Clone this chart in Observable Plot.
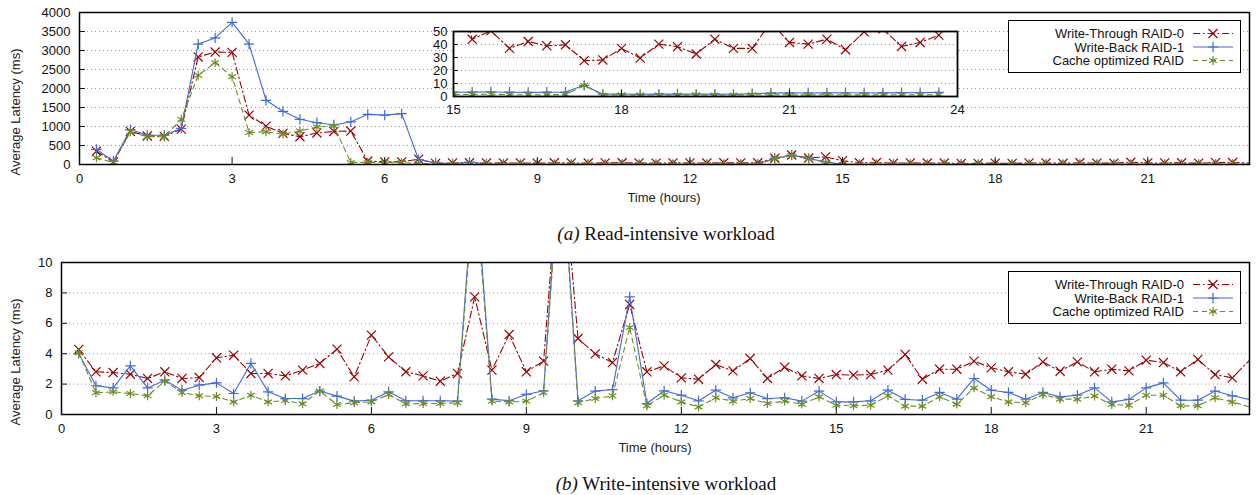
<!DOCTYPE html>
<html><head><meta charset="utf-8">
<script src="https://cdn.jsdelivr.net/npm/d3@7"></script>
<script src="https://cdn.jsdelivr.net/npm/@observablehq/plot@0.6"></script>
<style>
body{margin:0;background:#fff;}
#root{position:relative;width:1256px;height:495px;overflow:hidden;font-family:"Liberation Sans",Arial,sans-serif;background:#fff;}
#root svg{position:absolute;}
.ytitle{position:absolute;font-size:13px;color:#222;transform:translate(-50%,-50%) rotate(-90deg);white-space:nowrap;}
.xtitle{position:absolute;font-size:13px;color:#222;transform:translate(-50%,-50%);white-space:nowrap;}
.caption{position:absolute;font-family:"Liberation Serif","Times New Roman",serif;font-size:19px;color:#111;transform:translate(-50%,-50%);white-space:nowrap;}
</style></head>
<body><div id="root"></div>
<script>
// sample times (minutes after start)
const minutes = [20,40,60,80,100,120,140,160,180,200,220,240,260,280,300,320,340,360,380,400,420,440,460,480,500,520,540,560,580,600,620,640,660,680,700,720,740,760,780,800,820,840,860,880,900,920,940,960,980,1000,1020,1040,1060,1080,1100,1120,1140,1160,1180,1200,1220,1240,1260,1280,1300,1320,1340,1360,1380,1400,1420];

const seriesNames = ["Write-Through RAID-0", "Write-Back RAID-1", "Cache optimized RAID"];

// (a) Read-intensive workload, latency (ms)
const readWT = [350,70,870,750,740,930,2830,2960,2950,1300,1010,820,730,830,870,880,90,70,70,140,30,
  40,45,38,42,40,36,44,40,38,42,45,40,37,43,40,38,44,41,45,
  165,250,170,200,100,
  44,50.5,37,42.3,39,39.8,27.6,28.1,37,29.6,40.3,38.3,32.7,44.1,37,37,57,41.6,40.3,44.1,36,49.7,52,38.5,41.6,47.2];
const readWB = [400,90,920,770,770,950,3170,3330,3740,3170,1690,1400,1190,1100,1040,1120,1320,1300,1340,130,45,
  20,65,15,8,6,5,6,5,7,5,6,5,6,5,6,5,6,5,8,
  160,245,160,70,3.3,
  3.4,3.5,3.3,3.2,3.3,3.4,8.6,1.8,1.9,1.7,1.8,1.8,1.9,1.8,1.7,2.2,2.6,2.8,2.7,2.8,2.9,2.7,2.8,3.0,2.9,3.2];
const readCO = [175,55,860,730,730,1190,2350,2680,2310,840,860,800,880,990,1010,55,55,55,55,25,25,
  3,4,3,2,3,2,3,2,3,2,2,3,2,3,2,3,2,2,3,
  155,240,155,60,1.5,
  1.5,1.8,1.4,1.3,1.4,1.5,8.4,1.2,1.3,1.2,1.1,1.2,1.3,1.2,1.2,1.3,1.4,1.3,1.2,1.4,1.3,1.2,1.3,1.4,1.3,1.4];

// (b) Write-intensive workload, latency (ms)
const writeWT = [4.28,2.81,2.76,2.65,2.37,2.81,2.37,2.43,3.73,3.90,
  2.70,2.70,2.54,2.92,3.36,4.30,2.48,5.22,3.79,2.81,
  2.54,2.19,2.70,7.74,2.92,5.26,2.81,3.51,18,5.00,
  3.99,3.42,7.24,2.81,3.20,2.41,2.32,3.29,2.87,3.68,
  2.37,3.11,2.54,2.37,2.63,2.59,2.63,2.92,3.95,2.32,
  2.98,2.98,3.51,3.07,2.81,2.65,3.46,2.85,3.46,2.81,
  2.98,2.87,3.57,3.42,2.81,3.62,2.63,2.41,3.57];
const writeWB = [4.01,1.89,1.75,3.20,1.75,2.26,1.60,1.93,2.08,1.38,
  3.36,1.49,1.05,1.05,1.54,1.21,0.88,0.94,1.49,0.90,
  0.90,0.90,0.88,16.3,1.01,0.90,1.32,1.56,18,0.90,
  1.54,1.64,7.74,0.72,1.56,1.27,0.90,1.60,1.10,1.43,
  1.05,1.10,0.88,1.54,0.83,0.83,0.90,1.60,0.99,0.94,
  1.45,1.01,2.37,1.60,1.45,1.01,1.45,1.16,1.27,1.75,
  0.83,0.99,1.75,2.08,0.94,0.94,1.54,1.23,0.99];
const writeCO = [4.06,1.43,1.49,1.38,1.23,2.19,1.45,1.23,1.18,0.83,
  1.27,0.83,0.92,0.70,1.54,0.66,0.77,0.83,1.32,0.70,
  0.72,0.72,0.77,15.5,0.88,0.83,0.88,1.43,17.5,0.77,
  1.05,1.23,5.72,0.57,1.27,0.83,0.50,1.10,0.88,1.05,
  0.72,0.88,0.68,1.16,0.61,0.57,0.61,1.23,0.55,0.55,
  1.16,0.68,1.75,1.16,0.83,0.77,1.32,1.01,1.01,1.21,
  0.66,0.61,1.27,1.27,0.57,0.57,1.10,0.83,0.50];

const xTicks = [0,3,6,9,12,15,18,21];
const readYTicks = [0,500,1000,1500,2000,2500,3000,3500,4000];
const writeYTicks = [0,2,4,6,8,10];
const insetXTicks = [15,18,21,24];
const insetYTicks = [0,10,20,30,40,50];

const styles = [
  {color: "#9b0000", dash: "7,3,1.5,3", symbol: "times", r: 4.2},
  {color: "#4169e1", dash: null, symbol: "plus", r: 3.4},
  {color: "#6b8e23", dash: "5,4", symbol: "asterisk", r: 4.2}
];

function rowsOf(arrs) {
  return arrs.map((arr, s) => arr.map((v, i) => ({s, t: minutes[i] / 60, v})));
}

const FONT = {fontFamily: "'Liberation Sans', Arial, sans-serif", fontSize: "13px", color: "#111", background: "transparent", overflow: "visible"};
const plain = d => String(d);

function seriesMarks(series, dotFilter) {
  const marks = [];
  series.forEach((rows, s) => {
    const st = styles[s];
    marks.push(Plot.line(rows, {x: "t", y: "v", stroke: st.color, strokeWidth: 1.1, strokeDasharray: st.dash, clip: true}));
    marks.push(Plot.dot(rows.filter(dotFilter), {x: "t", y: "v", symbol: st.symbol, r: st.r, stroke: st.color, strokeWidth: 1.2, clip: true}));
  });
  return marks;
}

function panel(series, yDomain, yTicks, marginLeft) {
  return Plot.plot({
    width: 1256, height: 205,
    marginLeft, marginRight: 7, marginTop: 12, marginBottom: 41,
    style: FONT,
    x: {domain: [0, 23]},
    y: {domain: yDomain},
    marks: [
      Plot.gridY({ticks: yTicks, stroke: "#999", strokeOpacity: 1, strokeWidth: 1, strokeDasharray: "1,3"}),
      ...seriesMarks(series, d => d.t <= 22.9),
      Plot.frame({stroke: "#000", strokeWidth: 1.5}),
      Plot.axisX({ticks: xTicks, tickSize: 0, tickPadding: 9, tickFormat: plain, label: null}),
      Plot.axisX({ticks: xTicks, tickSize: -7, tickFormat: () => "", label: null}),
      Plot.axisY({ticks: yTicks, tickSize: 0, tickPadding: 9, tickFormat: plain, label: null}),
      Plot.axisY({ticks: yTicks, tickSize: -6, tickFormat: () => "", label: null})
    ]
  });
}

function inset(series) {
  return Plot.plot({
    width: 560, height: 100,
    marginLeft: 33, marginRight: 23, marginTop: 11, marginBottom: 24,
    style: FONT,
    x: {domain: [15, 24]},
    y: {domain: [0, 50]},
    marks: [
      Plot.frame({fill: "white", stroke: null}),
      Plot.gridY({ticks: insetYTicks, stroke: "#999", strokeOpacity: 1, strokeDasharray: "1,3"}),
      ...seriesMarks(series, d => d.t >= 15),
      Plot.frame({stroke: "#000", strokeWidth: 1.8}),
      Plot.axisX({ticks: insetXTicks, tickSize: 0, tickPadding: 8, tickFormat: plain, label: null}),
      Plot.axisX({ticks: insetXTicks, tickSize: -6, tickFormat: () => "", label: null}),
      Plot.axisY({ticks: insetYTicks, tickSize: 0, tickPadding: 6, tickFormat: plain, label: null}),
      Plot.axisY({ticks: insetYTicks, tickSize: -5, tickFormat: () => "", label: null})
    ]
  });
}

function legend(left, topPx) {
  const w = 233, h = 53;
  const svg = d3.create("svg").attr("width", w).attr("height", h)
    .style("left", left + "px").style("top", topPx + "px");
  svg.append("rect").attr("x", 0.5).attr("y", 0.5).attr("width", w - 1).attr("height", h - 1)
    .attr("fill", "#fff").attr("stroke", "#000").attr("stroke-width", 1);
  const symMap = {times: d3.symbolTimes, plus: d3.symbolPlus, asterisk: d3.symbolAsterisk};
  seriesNames.forEach((name, i) => {
    const st = styles[i];
    const y = 13.5 + i * 13.5;
    svg.append("text").attr("x", 176).attr("y", y).attr("dy", "0.35em").attr("text-anchor", "end")
      .attr("font-family", "'Liberation Sans', Arial, sans-serif").attr("font-size", 13).attr("fill", "#111").text(name);
    svg.append("line").attr("x1", 185).attr("x2", 225).attr("y1", y).attr("y2", y)
      .attr("stroke", st.color).attr("stroke-width", 1.1).attr("stroke-dasharray", st.dash);
    svg.append("path").attr("transform", `translate(205,${y})`)
      .attr("d", d3.symbol(symMap[st.symbol], Math.PI * st.r * st.r)())
      .attr("fill", "none").attr("stroke", st.color).attr("stroke-width", 1.2);
  });
  return svg.node();
}

const root = document.getElementById("root");

const topPanel = panel(rowsOf([readWT, readWB, readCO]), [0, 4000], readYTicks, 79);
topPanel.style.left = "0px"; topPanel.style.top = "0px";
root.appendChild(topPanel);

const insetPanel = inset(rowsOf([readWT, readWB, readCO]));
insetPanel.style.left = "420px"; insetPanel.style.top = "20px";
root.appendChild(insetPanel);

root.appendChild(legend(1008, 20));

const bottomPanel = panel(rowsOf([writeWT, writeWB, writeCO]), [0, 10], writeYTicks, 61);
bottomPanel.style.left = "0px"; bottomPanel.style.top = "250px";
root.appendChild(bottomPanel);

root.appendChild(legend(1008, 271));

function addText(cls, text, x, y, html) {
  const d = document.createElement("div");
  d.className = cls;
  if (html) d.innerHTML = text; else d.textContent = text;
  d.style.left = x + "px"; d.style.top = y + "px";
  root.appendChild(d);
}
addText("ytitle", "Average Latency (ms)", 15, 112);
addText("ytitle", "Average Latency (ms)", 15, 362);
addText("xtitle", "Time (hours)", 664, 197);
addText("xtitle", "Time (hours)", 655, 447);
addText("caption", "<i>(a)</i> Read-intensive workload", 666, 234, true);
addText("caption", "<i>(b)</i> Write-intensive workload", 666, 484, true);
</script>
</body></html>
